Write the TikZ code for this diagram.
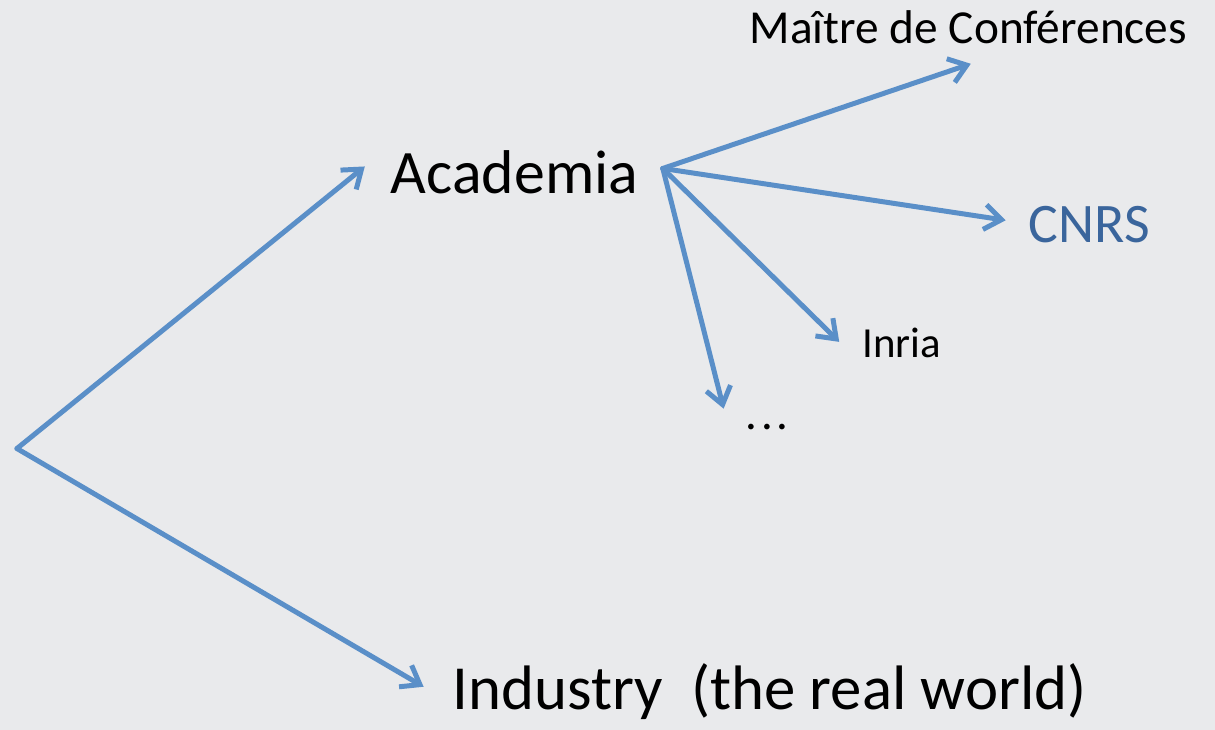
\documentclass[tikz,border=0pt]{standalone}
\usepackage{fontspec}
\setmainfont{Carlito}
\usetikzlibrary{arrows.meta}
\definecolor{bg}{HTML}{E9EAEC}
\definecolor{arrowblue}{HTML}{5A8FC8}
\definecolor{cnrsblue}{HTML}{3A659C}
\tikzset{
  link/.style={draw=arrowblue, line width=5pt, line cap=round, line join=round,
    -{Straight Barb[length=17pt,width=25pt,line width=5pt]}},
  lbl/.style={anchor=base west, inner sep=0pt, text=black},
}
\newcommand{\fs}[1]{\fontsize{#1}{#1}\selectfont}
\begin{document}
\begin{tikzpicture}[x=1pt,y=-1pt]
\fill[bg] (-2,-2) rectangle (1217,730);
\useasboundingbox (0,0) rectangle (1215,728);
% labels
\node[lbl, font=\fs{62}] (academia) at (390,192) {Academia};
\node[lbl, font=\fs{63}] (industry) at (452,710) {Industry\ \ (the real world)};
\node[lbl, font=\fs{47.5}] (maitre) at (750,42) {Maître de Conférences};
\node[lbl, font=\fs{56}, text=cnrsblue] (cnrs) at (1030,241) {CNRS};
\node[lbl, font=\fs{43}] (inria) at (863,357) {Inria};
\node[lbl, font=\fs{47}] (dots) at (746,429) {.\kern3.5pt.\kern3.5pt.};
% points
\coordinate (origin) at (15,448);
\coordinate (hub) at (663,167);
\coordinate (tA) at (364,165);
\coordinate (tI) at (423,687);
\coordinate (tM) at (972,62);
\coordinate (tC) at (1007,219);
\coordinate (tN) at (840,341);
\coordinate (tD) at (724,408);
% arrows
\draw[link] (origin) -- (tA);
\draw[link] (origin) -- (tI);
\draw[link] (hub) -- (tM);
\draw[link] (hub) -- (tC);
\draw[link] (hub) -- (tN);
\draw[link] (hub) -- (tD);
\end{tikzpicture}
\end{document}
